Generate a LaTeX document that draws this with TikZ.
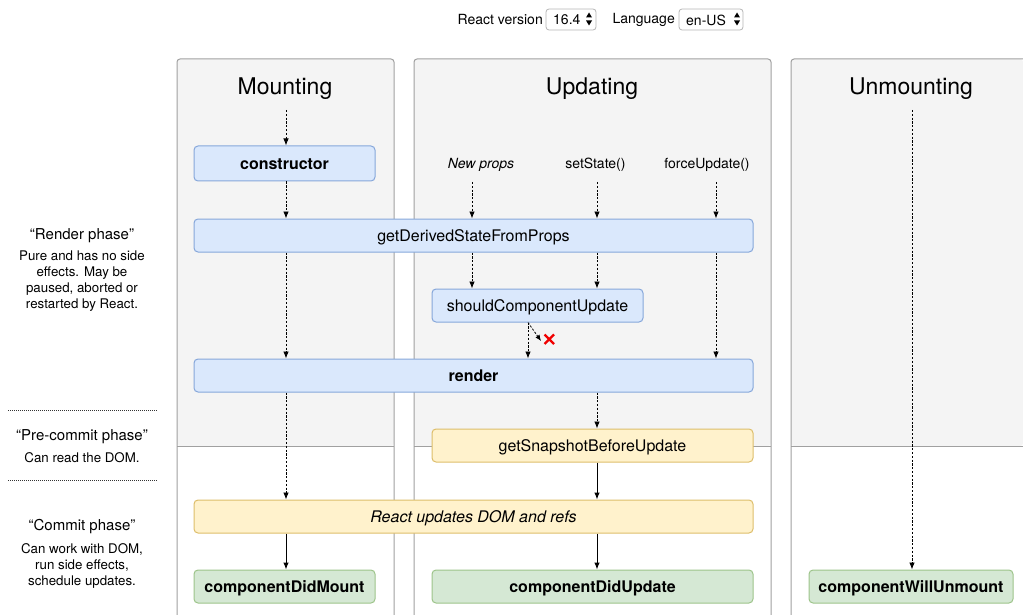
\documentclass[tikz,border=0pt]{standalone}
\usepackage{fontspec}
\setmainfont{TeX Gyre Heros}
\usetikzlibrary{arrows.meta}
\definecolor{colfill}{HTML}{F4F4F4}
\definecolor{colline}{HTML}{A0A0A0}
\definecolor{bluefill}{HTML}{DAE8FC}
\definecolor{blueline}{HTML}{86A7DA}
\definecolor{yellowfill}{HTML}{FFF2CC}
\definecolor{yellowline}{HTML}{DDBE6A}
\definecolor{greenfill}{HTML}{D5E8D4}
\definecolor{greenline}{HTML}{9DC48A}
\definecolor{selline}{HTML}{B5B5B5}
\definecolor{crossred}{HTML}{F00000}
\newcommand\methodfont{\fontsize{16}{19}\selectfont}
\newcommand\titlefont{\fontsize{23}{27}\selectfont}
\newcommand\notefont{\fontsize{13.3}{16}\selectfont}
\newcommand\triggerfont{\fontsize{14}{17}\selectfont}
\newcommand\phasefont{\fontsize{15}{18}\selectfont}
\begin{document}
\begin{tikzpicture}[x=1pt,y=-1pt,
  box/.style={rectangle, rounded corners=4pt, line width=1pt, inner sep=0pt, font=\methodfont, text height=13pt, text depth=2pt},
  bluebox/.style={box, fill=bluefill, draw=blueline},
  yellowbox/.style={box, fill=yellowfill, draw=yellowline},
  greenbox/.style={box, fill=greenfill, draw=greenline},
  flowd/.style={line width=0.8pt, dash pattern=on 2.2pt off 1.6pt, -{Latex[length=7pt,width=5.5pt]}},
  flows/.style={line width=1pt, -{Latex[length=7pt,width=5.5pt]}},
  coltitle/.style={font=\titlefont, inner sep=0pt},
  trigger/.style={font=\triggerfont, inner sep=0pt},
  phase/.style={font=\phasefont, inner sep=0pt, align=center},
  phasenote/.style={font=\notefont, inner sep=0pt, align=center},
  sepline/.style={line width=1pt, dash pattern=on 1pt off 1pt, black!80},
  selbox/.style={draw=selline, fill=white, rounded corners=3pt, line width=0.8pt},
]
\useasboundingbox (0,0) rectangle (1023,615);

% ---- version / language selectors
\node[trigger, anchor=east] (verlbl) at (543,20) {React version};
\draw[selbox] (546,9) rectangle (596,30);
\node[trigger, anchor=west] (verval) at (553,20) {16.4};
\fill (586,17.5) -- (592,17.5) -- (589,12.5) -- cycle;
\fill (586,20.5) -- (592,20.5) -- (589,25.5) -- cycle;
\node[trigger, anchor=east] (langlbl) at (675,20) {Language};
\draw[selbox] (679,9) rectangle (743,30);
\node[trigger, anchor=west] (langval) at (686,20) {en-US};
\fill (734,17.5) -- (740,17.5) -- (737,12.5) -- cycle;
\fill (734,20.5) -- (740,20.5) -- (737,25.5) -- cycle;

% ---- columns: grey upper part, white lower part
\fill[colfill, rounded corners=3pt] (177,446) -- (177,59) -- (394,59) -- (394,446) -- cycle;
\fill[colfill, rounded corners=3pt] (414,446) -- (414,59) -- (771,59) -- (771,446) -- cycle;
\fill[colfill, rounded corners=3pt] (791,446) -- (791,59) -- (1023,59) -- (1023,446) -- cycle;
\draw[colline, line width=1pt, rounded corners=3pt] (177,615) -- (177,59) -- (394,59) -- (394,615);
\draw[colline, line width=1pt, rounded corners=3pt] (414,615) -- (414,59) -- (771,59) -- (771,615);
\draw[colline, line width=1pt, rounded corners=3pt] (791,615) -- (791,59) -- (1023,59);
\draw[colline, line width=0.8pt] (177,446) -- (394,446) (414,446) -- (771,446) (791,446) -- (1023,446);

\node[coltitle] (tmount) at (285,89) {Mounting};
\node[coltitle] (tupdate) at (592,89) {Updating};
\node[coltitle] (tunmount) at (911,89) {Unmounting};

% ---- triggers of an update
\node[trigger, font=\triggerfont\itshape] (newprops) at (481,165) {New props};
\node[trigger] (setstate) at (595.5,165) {setState()};
\node[trigger] (forceupd) at (707,165) {forceUpdate()};

% ---- lifecycle methods
\node[bluebox, minimum width=181pt, minimum height=35pt] (ctor) at (284.5,163.5) {\bfseries constructor};
\node[bluebox, minimum width=559pt, minimum height=33pt] (gdsfp) at (473.5,235.5) {getDerivedStateFromProps};
\node[bluebox, minimum width=211pt, minimum height=33pt] (scu) at (537.5,305.5) {shouldComponentUpdate};
\node[bluebox, minimum width=559pt, minimum height=33pt] (render) at (473.5,375.5) {\bfseries render};
\node[yellowbox, minimum width=321pt, minimum height=33pt] (gsbu) at (592.5,445.5) {getSnapshotBeforeUpdate};
\node[yellowbox, minimum width=559pt, minimum height=33pt] (rud) at (473.5,516.5) {\itshape React updates DOM and refs};
\node[greenbox, minimum width=181pt, minimum height=33pt] (cdm) at (284.5,586.5) {\bfseries componentDidMount};
\node[greenbox, minimum width=321pt, minimum height=33pt] (cdu) at (592.5,586.5) {\bfseries componentDidUpdate};
\node[greenbox, minimum width=204pt, minimum height=33pt] (cwu) at (911,586.5) {\bfseries componentWillUnmount};

% ---- flow lines
\coordinate (mstart) at (286,110);
\coordinate (ustart) at (912,110);
\coordinate (npx) at (472,182);
\coordinate (ssx) at (597,182);
\coordinate (fux) at (716,182);
\coordinate (scux) at (528,0);
\coordinate (skip) at (541,341);

\draw[flowd] (mstart) -- (ctor.north -| mstart);
\draw[flowd] (ctor.south -| mstart) -- (gdsfp.north -| mstart);
\draw[flowd] (npx) -- (gdsfp.north -| npx);
\draw[flowd] (ssx) -- (gdsfp.north -| ssx);
\draw[flowd] (fux) -- (gdsfp.north -| fux);
\draw[flowd] (gdsfp.south -| npx) -- (scu.north -| npx);
\draw[flowd] (gdsfp.south -| ssx) -- (scu.north -| ssx);
\draw[flowd] (gdsfp.south -| mstart) -- (render.north -| mstart);
\draw[flowd] (gdsfp.south -| fux) -- (render.north -| fux);
\draw[flowd] (scu.south -| scux) -- (render.north -| scux);
\draw[flowd, -{Latex[length=6pt,width=5pt]}] (scu.south -| scux) -- (skip);
\draw[crossred, line width=2.2pt] (544.5,334.5) -- (554,344) (544.5,344) -- (554,334.5);
\draw[flowd] (render.south -| ssx) -- (gsbu.north -| ssx);
\draw[flowd] (render.south -| mstart) -- (rud.north -| mstart);
\draw[flows] (gsbu.south -| ssx) -- (rud.north -| ssx);
\draw[flows] (rud.south -| mstart) -- (cdm.north -| mstart);
\draw[flows] (rud.south -| ssx) -- (cdu.north -| ssx);
\draw[flowd] (ustart) -- (cwu.north -| ustart);

% ---- phase descriptions
\node[phase] (prender) at (82,236) {“Render phase”};
\node[phasenote, anchor=north] (nrender) at (82,251) {Pure and has no side\\effects. May be\\paused, aborted or\\restarted by React.};
\coordinate (sepa) at (8,410);
\coordinate (sepb) at (8,480);
\draw[sepline] (sepa) -- ++(149,0);
\node[phase] (pprecommit) at (82,437) {“Pre-commit phase”};
\node[phasenote] (nprecommit) at (82,458) {Can read the DOM.};
\draw[sepline] (sepb) -- ++(149,0);
\node[phase] (pcommit) at (82,527) {“Commit phase”};
\node[phasenote, anchor=north] (ncommit) at (82,543) {Can work with DOM,\\run side effects,\\schedule updates.};
\end{tikzpicture}
\end{document}
